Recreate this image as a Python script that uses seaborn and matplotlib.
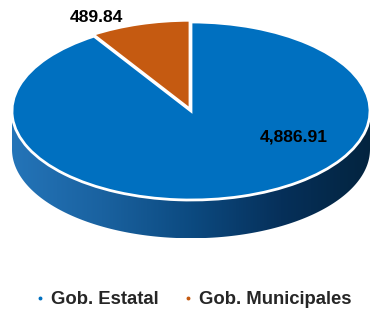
import numpy as np
import matplotlib
matplotlib.use("Agg")
import matplotlib.pyplot as plt
from matplotlib.colors import LinearSegmentedColormap
from matplotlib.patches import Polygon
from matplotlib.lines import Line2D
import seaborn as sns

# Data
categories = ["Gob. Estatal", "Gob. Municipales"]
values = [4886.91, 489.84]
colors = ["#0070C0", "#C55A11"]

sns.set_theme(style="white")
plt.rcParams["font.family"] = ["Liberation Sans", "DejaVu Sans"]

fig = plt.figure(figsize=(3.7, 3.2), dpi=100)
ax = fig.add_axes([0, 0, 1, 1])

XLIM = (-1.067, 1.0)
YLIM = (-2.348, 1.247)

wedges, _ = ax.pie(
    values, colors=colors, startangle=90, counterclock=False,
    explode=[0, 0.02], radius=1.0,
    wedgeprops=dict(edgecolor="white", linewidth=2.0, zorder=3),
)

# Squash the pie into a tilted ellipse
ax.set_aspect("auto")
ax.axis("off")

# Side wall of the 3D pie (front half only) with a horizontal shading gradient
depth = 0.43
side_cmap = LinearSegmentedColormap.from_list(
    "side", ["#2474B8", "#1A62A0", "#0C4A80", "#06305A", "#03243F"])
grad = np.linspace(0, 1, 256).reshape(1, -1)
for w in wedges:
    t1, t2 = w.theta1, w.theta2
    cx, cy = w.center
    for shift in (0, 360, -360):
        a = max(t1 + shift, 180)
        b = min(t2 + shift, 360)
        if b <= a:
            continue
        t = np.radians(np.linspace(a, b, 200))
        top = np.column_stack([cx + w.r * np.cos(t), cy + w.r * np.sin(t)])
        bot = top[::-1] - [0, depth]
        poly = Polygon(np.vstack([top, bot]), closed=True,
                       facecolor="none", edgecolor="none")
        ax.add_patch(poly)
        im = ax.imshow(grad, cmap=side_cmap, aspect="auto",
                       extent=(-1.0, 1.0, -1.0 - depth, 0.05), zorder=1)
        im.set_clip_path(poly)

ax.set_xlim(*XLIM)
ax.set_ylim(*YLIM)

# Value labels
label_pos = [(0.575, -0.292), (-0.53, 1.045)]
for v, (x, y) in zip(values, label_pos):
    ax.text(x, y, f"{v:,.2f}", ha="center", va="center",
            fontsize=12.6, fontweight="bold", color="black", zorder=5)

# Legend
handles = [Line2D([0], [0], marker="o", linestyle="none", markersize=1.8,
                  markerfacecolor=c, markeredgecolor=c) for c in colors]
leg = fig.legend(handles, categories, loc="center", ncol=2,
                 bbox_to_anchor=(0.523, 0.063), frameon=False,
                 prop=dict(size=13.3, weight="bold"),
                 handlelength=0.5, handletextpad=0.35, columnspacing=1.33)

fig.savefig("out.png", dpi=100)
